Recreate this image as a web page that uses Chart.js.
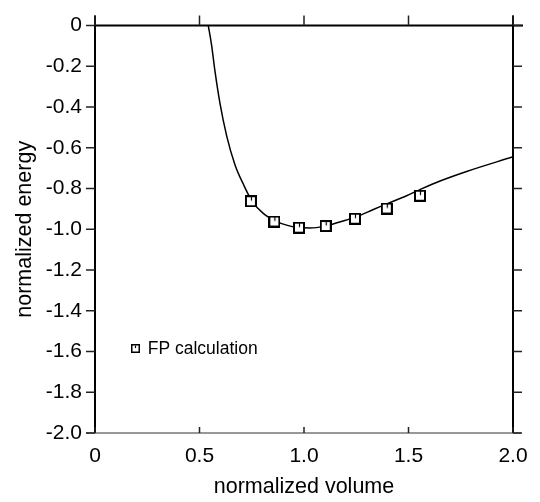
<!DOCTYPE html>
<html>
<head>
<meta charset="utf-8">
<title>normalized energy vs normalized volume</title>
<script src="https://cdn.jsdelivr.net/npm/chart.js@4.4.0/dist/chart.umd.min.js"></script>
<style>
  html, body { margin: 0; padding: 0; background: #fff; }
</style>
</head>
<body>
<canvas id="grafica" width="540" height="502"></canvas>
<script>
// Curva ajustada
const curvaX = [0.542, 0.558, 0.574, 0.598, 0.630, 0.670, 0.710, 0.750, 0.805, 0.869, 0.925, 0.965,
                1.029, 1.108, 1.188, 1.251, 1.332, 1.396, 1.491, 1.555, 1.651, 1.778, 2.0];
const curvaY = [0, -0.097, -0.224, -0.382, -0.541, -0.684, -0.779, -0.859, -0.922, -0.962, -0.982, -0.990,
                -0.994, -0.982, -0.959, -0.938, -0.903, -0.875, -0.835, -0.805, -0.763, -0.716, -0.644];

// Puntos del cálculo FP
const fpX = [0.746, 0.858, 0.976, 1.104, 1.244, 1.396, 1.555];
const fpY = [-0.862, -0.962, -0.992, -0.984, -0.948, -0.898, -0.835];

const etiquetaLeyenda = 'FP calculation';
const tituloX = 'normalized volume';
const tituloY = 'normalized energy';

const fuente = '"Liberation Sans", Arial, Helvetica, sans-serif';

// Cuadrito con una marca vertical arriba, como en la figura
function hacerCuadro(lado, grosor) {
    const c = document.createElement('canvas');
    c.width = lado;
    c.height = lado;
    const g = c.getContext('2d');
    g.fillStyle = '#fff';
    g.fillRect(0, 0, lado, lado);
    g.strokeStyle = '#000';
    g.lineWidth = grosor;
    g.strokeRect(grosor / 2, grosor / 2, lado - grosor, lado - grosor);
    g.lineWidth = 1.2;
    g.beginPath();
    g.moveTo(Math.floor(lado / 2) + 0.5, grosor);
    g.lineTo(Math.floor(lado / 2) + 0.5, lado * 0.45);
    g.stroke();
    return c;
}

function formato(v) {
    return Math.abs(v) < 1e-9 ? '0' : v.toFixed(1);
}

// Marco, marcas de los ejes y leyenda
const marco = {
    id: 'marco',
    afterDraw(chart) {
        const {ctx, chartArea: a, scales: {x, y}} = chart;
        ctx.save();
        ctx.strokeStyle = '#000';
        ctx.lineWidth = 2;
        ctx.beginPath();
        ctx.moveTo(a.left, a.top - 10); ctx.lineTo(a.left, a.bottom);
        ctx.moveTo(a.left, a.top); ctx.lineTo(a.right + 10, a.top);
        ctx.moveTo(a.right, a.top - 10); ctx.lineTo(a.right, a.bottom);
        ctx.stroke();

        ctx.lineWidth = 1.2;
        ctx.strokeStyle = '#333';
        ctx.beginPath();
        ctx.moveTo(a.left - 9, a.bottom); ctx.lineTo(a.right + 8, a.bottom);
        ctx.stroke();

        ctx.lineWidth = 1.5;
        ctx.strokeStyle = '#222';
        ctx.beginPath();
        y.ticks.forEach(t => {
            const py = y.getPixelForValue(t.value);
            ctx.moveTo(a.left - 9, py); ctx.lineTo(a.left, py);
            ctx.moveTo(a.right, py); ctx.lineTo(a.right + 9, py);
        });
        x.ticks.forEach(t => {
            const px = x.getPixelForValue(t.value);
            ctx.moveTo(px, a.top - 10); ctx.lineTo(px, a.top);
            ctx.moveTo(px, a.bottom); ctx.lineTo(px, a.bottom - 6);
        });
        ctx.stroke();

        // leyenda dentro del área
        const lx = x.getPixelForValue(0.195);
        const ly = y.getPixelForValue(-1.585);
        const cuadro = hacerCuadro(9, 1.5);
        ctx.drawImage(cuadro, Math.round(lx - 4.5), Math.round(ly - 4.5));
        ctx.fillStyle = '#000';
        ctx.font = '17.5px ' + fuente;
        ctx.textBaseline = 'middle';
        ctx.textAlign = 'left';
        ctx.fillText(etiquetaLeyenda, lx + 12, ly + 1);
        ctx.restore();
    }
};

const ctx = document.getElementById('grafica').getContext('2d');

new Chart(ctx, {
    type: 'scatter',
    data: {
        datasets: [{
            data: curvaX.map((valor, i) => ({x: valor, y: curvaY[i]})),
            showLine: true,
            borderColor: '#000',
            borderWidth: 1.5,
            pointRadius: 0,
            cubicInterpolationMode: 'monotone',
            order: 2
        }, {
            data: fpX.map((valor, i) => ({x: valor, y: fpY[i]})),
            showLine: false,
            pointStyle: hacerCuadro(12, 2),
            pointRadius: 6,
            order: 1
        }]
    },
    options: {
        responsive: false,
        animation: false,
        devicePixelRatio: 1,
        layout: {
            padding: {top: 13, right: 27, left: 0, bottom: 0}
        },
        scales: {
            x: {
                type: 'linear',
                min: 0,
                max: 2,
                grid: {display: false, drawTicks: false},
                border: {display: false},
                ticks: {
                    stepSize: 0.5,
                    padding: 11,
                    color: '#000',
                    font: {family: fuente, size: 21},
                    callback: formato,
                    maxRotation: 0
                },
                title: {
                    display: true,
                    text: tituloX,
                    color: '#000',
                    font: {family: fuente, size: 21.5},
                    padding: {top: 0, bottom: 2}
                },
                afterFit(s) { s.height = 69; }
            },
            y: {
                type: 'linear',
                min: -2,
                max: 0,
                grid: {display: false, drawTicks: false},
                border: {display: false},
                ticks: {
                    stepSize: 0.2,
                    padding: 13,
                    color: '#000',
                    font: {family: fuente, size: 21},
                    callback: formato
                },
                title: {
                    display: true,
                    text: tituloY,
                    color: '#000',
                    font: {family: fuente, size: 21.5},
                    padding: {top: 12, bottom: 0}
                },
                afterFit(s) { s.width = 95; }
            }
        },
        plugins: {
            legend: {display: false},
            tooltip: {enabled: false}
        }
    },
    plugins: [marco]
});
</script>
</body>
</html>
